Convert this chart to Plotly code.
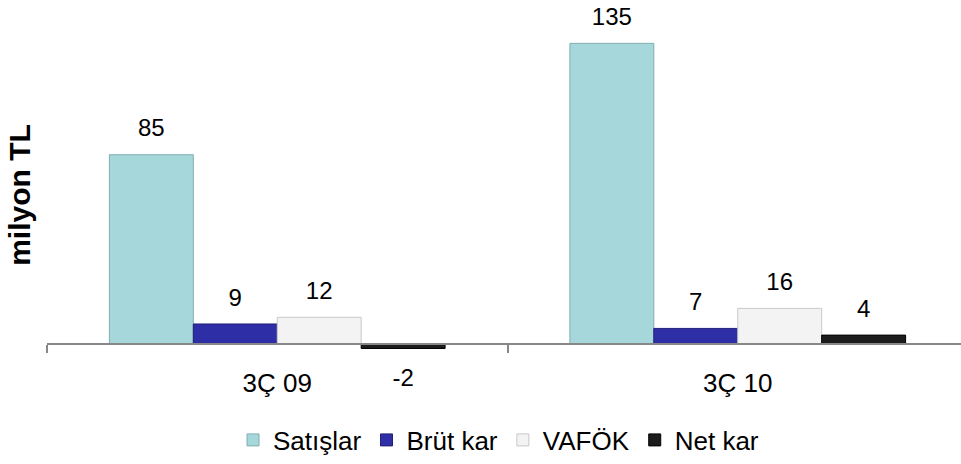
import plotly.graph_objects as go

categories = ["3Ç 09", "3Ç 10"]
series_names = ["Satışlar", "Brüt kar", "VAFÖK", "Net kar"]
satislar = [85, 135]
brut_kar = [9, 7]
vafok = [12, 16]
net_kar = [-2, 4]

values = [satislar, brut_kar, vafok, net_kar]
fills = ["#a6d8db", "#2e2ea6", "#f3f3f3", "#1c1c1c"]
edges = ["#7fadb0", "#20207a", "#c8c8c8", "#000000"]

FONT = "Liberation Sans, Arial, sans-serif"
fig = go.Figure()

for i, (name, vals) in enumerate(zip(series_names, values)):
    fig.add_trace(go.Bar(
        x=categories, y=vals, name=name,
        marker=dict(color=fills[i], line=dict(color=edges[i], width=1)),
        offsetgroup=f"g{i}", hoverinfo="skip",
    ))

for i, (name, vals) in enumerate(zip(series_names, values)):
    fig.add_trace(go.Scatter(
        x=categories, y=vals, mode="markers+text",
        text=[str(v) for v in vals],
        textposition=["bottom center" if v < 0 else "top center" for v in vals],
        textfont=dict(family=FONT, size=24, color="#000000"),
        marker=dict(size=[30 if v < 0 else 18 for v in vals], opacity=0),
        offsetgroup=f"g{i}", showlegend=False, hoverinfo="skip",
        cliponaxis=False,
    ))

ymin, ymax = -11.67, 145.5
fig.update_layout(
    width=961, height=464,
    margin=dict(l=47, r=0, t=20, b=94, autoexpand=False),
    paper_bgcolor="white", plot_bgcolor="white",
    barmode="group", bargap=0.271, bargroupgap=0,
    scattermode="group", scattergap=0.271,
    font=dict(family=FONT, size=26, color="#000000"),
    showlegend=True,
    legend=dict(orientation="h", x=0.494, xanchor="center", y=-0.2, yanchor="middle",
                font=dict(family=FONT, size=26), itemwidth=30, traceorder="normal"),
    xaxis=dict(
        type="category", range=[-0.5, 1.4848],
        anchor="free", position=(0 - ymin) / (ymax - ymin),
        showline=True, linecolor="#888888", linewidth=2,
        ticks="outside", ticklen=8, tickwidth=2, tickcolor="#888888",
        tickson="boundaries", ticklabelstandoff=16,
        showgrid=False, zeroline=False, automargin=False,
        tickfont=dict(family=FONT, size=26),
    ),
    yaxis=dict(
        range=[ymin, ymax], showticklabels=False, showgrid=False,
        zeroline=False, showline=False, ticks="",
        title=dict(text="<b>milyon TL</b>", standoff=6,
                   font=dict(family=FONT, size=30)),
        automargin=False,
    ),
)

fig.write_html("out.html", config={"displayModeBar": False})

# remove the browser's default page margin so the figure fills the window exactly
with open("out.html", encoding="utf-8") as f:
    html = f.read()
html = html.replace("<body>", '<body style="margin:0;overflow:hidden">', 1)
with open("out.html", "w", encoding="utf-8") as f:
    f.write(html)
